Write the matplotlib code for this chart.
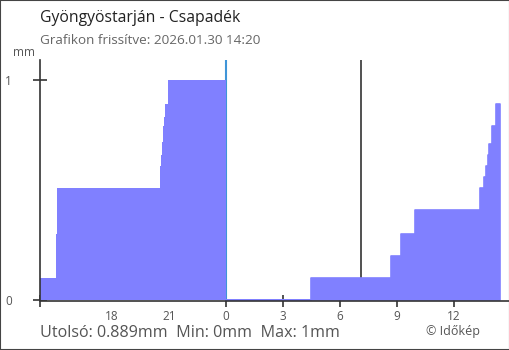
import matplotlib
matplotlib.use("Agg")
import matplotlib.pyplot as plt
from matplotlib.patches import Rectangle

plt.rcParams['font.family'] = ['Open Sans', 'DejaVu Sans']

# hours relative to midnight (negative = previous day), cumulative precipitation in mm
prev_hours = [-9.79, -8.96, -8.89, -3.47, -3.42, -3.37, -3.33, -3.28, -3.23, -3.07, 0.0]
prev_mm = [0.10, 0.30, 0.51, 0.61, 0.66, 0.72, 0.79, 0.83, 0.89, 1.0, 1.0]
today_hours = [0.0, 4.47, 8.68, 9.21, 9.95, 13.37, 13.58, 13.67, 13.76, 13.82, 14.02, 14.23, 14.42]
today_mm = [0.0, 0.10, 0.20, 0.30, 0.41, 0.51, 0.56, 0.61, 0.66, 0.71, 0.79, 0.889, 0.889]

tick_pos = [-9.79, -6, -3, 0, 3, 6, 9, 12]
tick_labels = ['', '18', '21', '0', '3', '6', '9', '12']
sunrise = 7.1

title = "Gyöngyöstarján - Csapadék"
subtitle = "Grafikon frissítve: 2026.01.30 14:20"
footer = "Utolsó: 0.889mm  Min: 0mm  Max: 1mm"

W, H = 510, 350
fig = plt.figure(figsize=(W / 100, H / 100), dpi=100)
ax = fig.add_axes([40 / W, 50 / H, 469 / W, 240 / H])

fill_col = '#8080ff'
ax.fill_between(prev_hours, 0, prev_mm, step='post', color=fill_col, lw=0, zorder=3)
ax.fill_between(today_hours, 0, today_mm, step='post', facecolor=fill_col,
                edgecolor=fill_col, lw=1.2, zorder=3)

ax.axvline(0, color='#3f95d8', lw=1.5, zorder=2)
ax.axvline(sunrise, color='#333333', lw=1.2, zorder=2)

ax.set_xlim(-9.79, 14.89)
ax.set_ylim(0, 240 / 220)

for s in ['top', 'right']:
    ax.spines[s].set_visible(False)
for s in ['left', 'bottom']:
    ax.spines[s].set_color('#333333')
    ax.spines[s].set_linewidth(1.2)
    ax.spines[s].set_zorder(4)
ax.spines['bottom'].set_position(('outward', 0.8))

ax.set_xticks(tick_pos)
ax.set_xticklabels(tick_labels)
ax.tick_params(axis='x', direction='inout', length=9, width=1.2, color='#333333',
               labelsize=8.5, labelcolor='#555555', pad=2)
xt = ax.xaxis.get_major_ticks()
xt[1].tick1line.set_visible(False)
xt[2].tick1line.set_visible(False)
xt[3].tick1line.set_color('#3f95d8')

ax.set_yticks([0, 1])
ax.set_yticklabels(['0', '1'])
ax.tick_params(axis='y', direction='inout', length=10, width=1.2, color='#333333',
               labelsize=8.5, labelcolor='#555555', pad=15)

fig.text(24 / W, 1 - 52 / H, 'mm', ha='center', va='center', fontsize=8.5, color='#555555')
fig.text(40 / W, 1 - 18 / H, title, ha='left', va='center', fontsize=11.3, color='#222222')
fig.text(40 / W, 1 - 41 / H, subtitle, ha='left', va='center', fontsize=9.7, color='#666666')
fig.text(40 / W, 1 - 333 / H, footer, ha='left', va='center', fontsize=11.6, color='#555555')
fig.text(453 / W, 1 - 331 / H, '© Időkép', ha='center', va='center', fontsize=9, color='#555555')

fig.patches.append(Rectangle((0, 0), 1, 1, transform=fig.transFigure, fill=False,
                             edgecolor='#444444', lw=1.5))

fig.savefig('out.png', dpi=100)
